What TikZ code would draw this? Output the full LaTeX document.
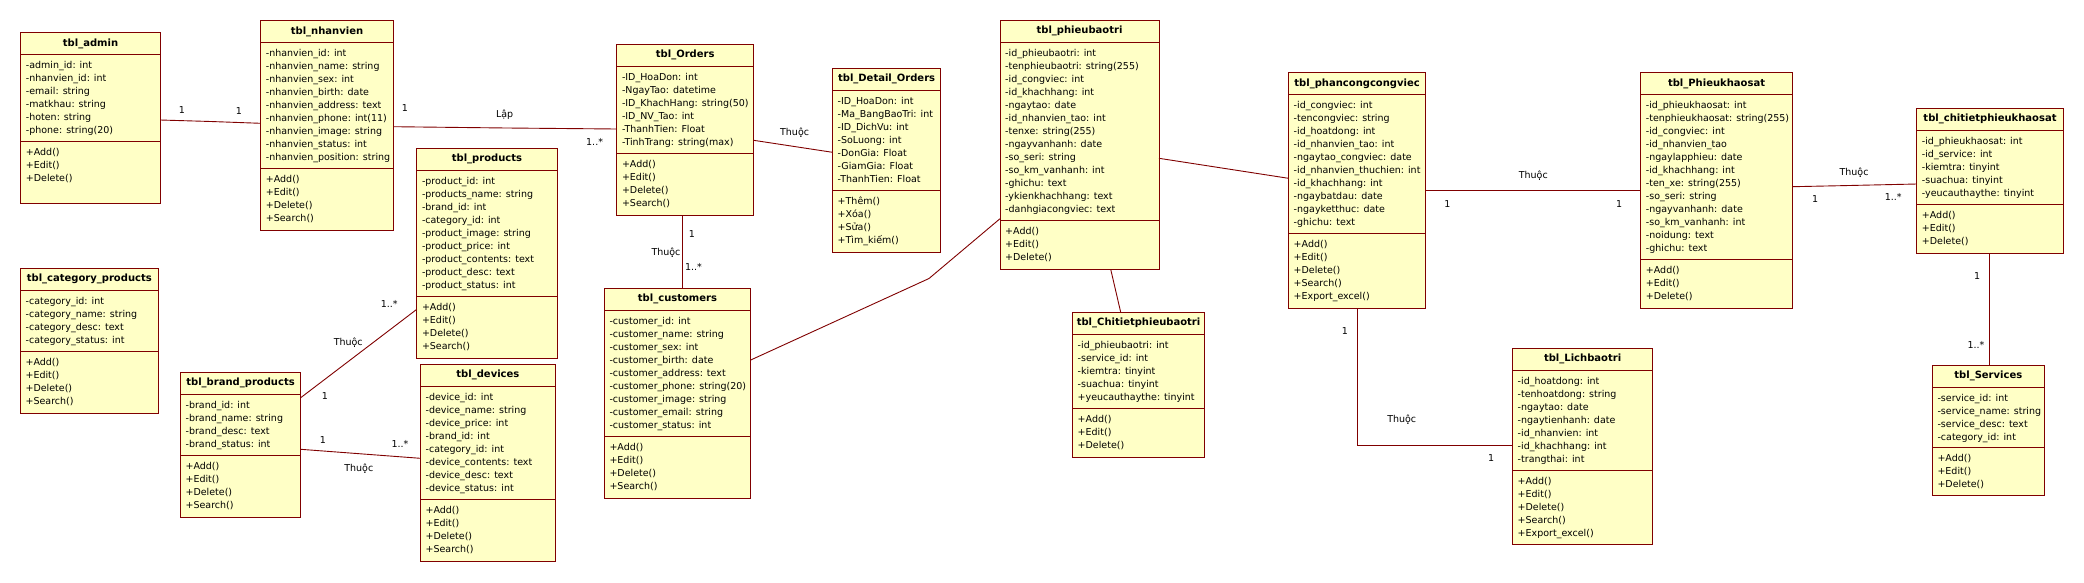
\documentclass[tikz,border=0pt]{standalone}
\usepackage{fontspec}
\setmainfont{DejaVu Sans}
\definecolor{boxfill}{RGB}{255,255,198}
\definecolor{boxline}{RGB}{128,0,0}
\tikzset{
 classbox/.style={draw=boxline, fill=boxfill, line width=1pt, inner sep=0pt, outer sep=0pt, rectangle},
 divider/.style={draw=boxline, line width=1pt},
 titletext/.style={font=\fontsize{10}{13}\selectfont\bfseries, inner sep=0pt},
 listtext/.style={font=\fontsize{9.5}{13}\selectfont, align=left, inner sep=0pt, anchor=north west},
 assoc/.style={draw=boxline, line width=0.9pt},
 mult/.style={font=\fontsize{9.5}{13}\selectfont, inner sep=0pt},
}
\newcommand\umlclass[9]{%
 \node[classbox, anchor=north west, minimum width={#4-#2}, minimum height={#5-#3}] (#1) at (#2,#3) {};
 \draw[divider] (#2,{#3+22}) -- (#4,{#3+22});
 \draw[divider] (#2,#6) -- (#4,#6);
 \node[titletext] (#1-title) at ({(#2+#4)/2},{#3+11}) {#7};
 \node[listtext] (#1-attrs) at ({#2+5},{#3+27}) {\rule{0pt}{9pt}#8};
 \node[listtext] (#1-ops) at ({#2+5},{#6+5}) {\rule{0pt}{9pt}#9};
}
\begin{document}
\begin{tikzpicture}[x=1pt,y=-1pt]
\fill[white] (0,0) rectangle (2084,582);
\useasboundingbox (0,0) rectangle (2084,582);

% ---------- classes ----------
\umlclass{admin}{20.7}{32.7}{160.3}{203.3}{141.7}{tbl\_admin}
 {-admin\_id: int\\-nhanvien\_id: int\\-email: string\\-matkhau: string\\-hoten: string\\-phone: string(20)}
 {+Add()\\+Edit()\\+Delete()}

\umlclass{nhanvien}{260.7}{20.7}{393.3}{230.4}{168.7}{tbl\_nhanvien}
 {-nhanvien\_id: int\\-nhanvien\_name: string\\-nhanvien\_sex: int\\-nhanvien\_birth: date\\-nhanvien\_address: text\\-nhanvien\_phone: int(11)\\-nhanvien\_image: string\\-nhanvien\_status: int\\-nhanvien\_position: string}
 {+Add()\\+Edit()\\+Delete()\\+Search()}

\umlclass{orders}{616.8}{44.3}{753.6}{215}{153.3}{tbl\_Orders}
 {-ID\_HoaDon: int\\-NgayTao: datetime\\-ID\_KhachHang: string(50)\\-ID\_NV\_Tao: int\\-ThanhTien: Float\\-TinhTrang: string(max)}
 {+Add()\\+Edit()\\+Delete()\\+Search()}

\umlclass{detail}{832.5}{68.3}{940.7}{252}{190.3}{tbl\_Detail\_Orders}
 {-ID\_HoaDon: int\\-Ma\_BangBaoTri: int\\-ID\_DichVu: int\\-SoLuong: int\\-DonGia: Float\\-GiamGia: Float\\-ThanhTien: Float}
 {+Thêm()\\+Xóa()\\+Sửa()\\+Tìm\_kiếm()}

\umlclass{products}{416.8}{148.3}{557.2}{358.3}{296}{tbl\_products}
 {-product\_id: int\\-products\_name: string\\-brand\_id: int\\-category\_id: int\\-product\_image: string\\-product\_price: int\\-product\_contents: text\\-product\_desc: text\\-product\_status: int}
 {+Add()\\+Edit()\\+Delete()\\+Search()}

\umlclass{customers}{604.3}{288.3}{750.7}{498.3}{436}{tbl\_customers}
 {-customer\_id: int\\-customer\_name: string\\-customer\_sex: int\\-customer\_birth: date\\-customer\_address: text\\-customer\_phone: string(20)\\-customer\_image: string\\-customer\_email: string\\-customer\_status: int}
 {+Add()\\+Edit()\\+Delete()\\+Search()}

\umlclass{category}{20.4}{268.3}{158.2}{413.3}{351}{tbl\_category\_products}
 {-category\_id: int\\-category\_name: string\\-category\_desc: text\\-category\_status: int}
 {+Add()\\+Edit()\\+Delete()\\+Search()}

\umlclass{brand}{180.4}{372.3}{300.7}{517}{455.3}{tbl\_brand\_products}
 {-brand\_id: int\\-brand\_name: string\\-brand\_desc: text\\-brand\_status: int}
 {+Add()\\+Edit()\\+Delete()\\+Search()}

\umlclass{devices}{420.4}{364.3}{555.4}{561}{499.3}{tbl\_devices}
 {-device\_id: int\\-device\_name: string\\-device\_price: int\\-brand\_id: int\\-category\_id: int\\-device\_contents: text\\-device\_desc: text\\-device\_status: int}
 {+Add()\\+Edit()\\+Delete()\\+Search()}

\umlclass{phieubaotri}{1000}{20}{1159}{269.3}{220.7}{tbl\_phieubaotri}
 {-id\_phieubaotri: int\\-tenphieubaotri: string(255)\\-id\_congviec: int\\-id\_khachhang: int\\-ngaytao: date\\-id\_nhanvien\_tao: int\\-tenxe: string(255)\\-ngayvanhanh: date\\-so\_seri: string\\-so\_km\_vanhanh: int\\-ghichu: text\\-ykienkhachhang: text\\-danhgiacongviec: text}
 {+Add()\\+Edit()\\+Delete()}

\umlclass{ctpbt}{1072.5}{312.3}{1204.6}{457.3}{408.3}{tbl\_Chitietphieubaotri}
 {-id\_phieubaotri: int\\-service\_id: int\\-kiemtra: tinyint\\-suachua: tinyint\\+yeucauthaythe: tinyint}
 {+Add()\\+Edit()\\+Delete()}

\umlclass{phancong}{1288.5}{72.7}{1425.7}{308.3}{233.3}{tbl\_phancongcongviec}
 {-id\_congviec: int\\-tencongviec: string\\-id\_hoatdong: int\\-id\_nhanvien\_tao: int\\-ngaytao\_congviec: date\\-id\_nhanvien\_thuchien: int\\-id\_khachhang: int\\-ngaybatdau: date\\-ngayketthuc: date\\-ghichu: text}
 {+Add()\\+Edit()\\+Delete()\\+Search()\\+Export\_excel()}

\umlclass{lich}{1512.5}{348.3}{1652.7}{544}{470.3}{tbl\_Lichbaotri}
 {-id\_hoatdong: int\\-tenhoatdong: string\\-ngaytao: date\\-ngaytienhanh: date\\-id\_nhanvien: int\\-id\_khachhang: int\\-trangthai: int}
 {+Add()\\+Edit()\\+Delete()\\+Search()\\+Export\_excel()}

\umlclass{khaosat}{1640.7}{72.7}{1792.3}{308.3}{259.3}{tbl\_Phieukhaosat}
 {-id\_phieukhaosat: int\\-tenphieukhaosat: string(255)\\-id\_congviec: int\\-id\_nhanvien\_tao\\-ngaylapphieu: date\\-id\_khachhang: int\\-ten\_xe: string(255)\\-so\_seri: string\\-ngayvanhanh: date\\-so\_km\_vanhanh: int\\-noidung: text\\-ghichu: text}
 {+Add()\\+Edit()\\+Delete()}

\umlclass{ctks}{1916.7}{108.3}{2063.3}{253.3}{204.7}{tbl\_chitietphieukhaosat}
 {-id\_phieukhaosat: int\\-id\_service: int\\-kiemtra: tinyint\\-suachua: tinyint\\-yeucauthaythe: tinyint}
 {+Add()\\+Edit()\\+Delete()}

\umlclass{services}{1932.3}{365}{2044.3}{495.7}{447.3}{tbl\_Services}
 {-service\_id: int\\-service\_name: string\\-service\_desc: text\\-category\_id: int}
 {+Add()\\+Edit()\\+Delete()}

% ---------- connectors ----------
\draw[assoc] ([yshift=-87.3pt]admin.north east) -- (211,121.5) -- ([yshift=-102.6pt]nhanvien.north west);
\node[mult] at (182,110) {1};
\node[mult] at (239,111) {1};

\draw[assoc] ([yshift=-106pt]nhanvien.north east) -- (507,128) -- ([yshift=-84.7pt]orders.north west);
\node[mult] at (405,108.3) {1};
\node[mult] at (504.6,114.3) {Lập};
\node[mult] at (594.6,141.7) {1..*};

\draw[assoc] ([yshift=-96pt]orders.north east) -- ([yshift=-84pt]detail.north west);
\node[mult] at (794.6,132.7) {Thuộc};

\coordinate (oc) at (682.5,250);
\draw[assoc] (orders.south -| oc) -- (customers.north -| oc);
\node[mult] at (692,234) {1};
\node[mult] at (666,252.7) {Thuộc};
\node[mult] at (693.5,267.3) {1..*};

\draw[assoc] ([yshift=-71.7pt]customers.north east) -- (929,278.5) -- ([yshift=-198.7pt]phieubaotri.north west);

\draw[assoc] ([xshift=31.2pt]phieubaotri.south) -- ([xshift=-17.85pt]ctpbt.north);
\draw[assoc] ([yshift=-138.3pt]phieubaotri.north east) -- ([yshift=-105.6pt]phancong.north west);

\draw[assoc] ([yshift=-117.3pt]phancong.north east) -- ([yshift=-117.3pt]khaosat.north west);
\node[mult] at (1533.3,176) {Thuộc};
\node[mult] at (1447.3,204) {1};
\node[mult] at (1619,204) {1};

\coordinate (pl) at (1357.5,445);
\draw[assoc] (phancong.south -| pl) -- (pl) -- (lich.west |- pl);
\node[mult] at (1345,331) {1};
\node[mult] at (1401.7,420) {Thuộc};
\node[mult] at (1491,458.3) {1};

\draw[assoc] ([yshift=-114pt]khaosat.north east) -- (1840,185.7) -- ([yshift=-75.7pt]ctks.north west);
\node[mult] at (1854,172.7) {Thuộc};
\node[mult] at (1815,199) {1};
\node[mult] at (1893.3,196.7) {1..*};

\coordinate (cs) at (1989,300);
\draw[assoc] (ctks.south -| cs) -- (services.north -| cs);
\node[mult] at (1977,276.3) {1};
\node[mult] at (1976,345) {1..*};

\draw[assoc] ([yshift=-25.4pt]brand.north east) -- ([yshift=-161pt]products.north west);
\node[mult] at (348.2,342.7) {Thuộc};
\node[mult] at (389.3,304.3) {1..*};
\node[mult] at (325,396) {1};

\draw[assoc] ([yshift=-77pt]brand.north east) -- ([yshift=-94pt]devices.north west);
\node[mult] at (323,440) {1};
\node[mult] at (400,444.3) {1..*};
\node[mult] at (358.8,468.3) {Thuộc};
\end{tikzpicture}
\end{document}
